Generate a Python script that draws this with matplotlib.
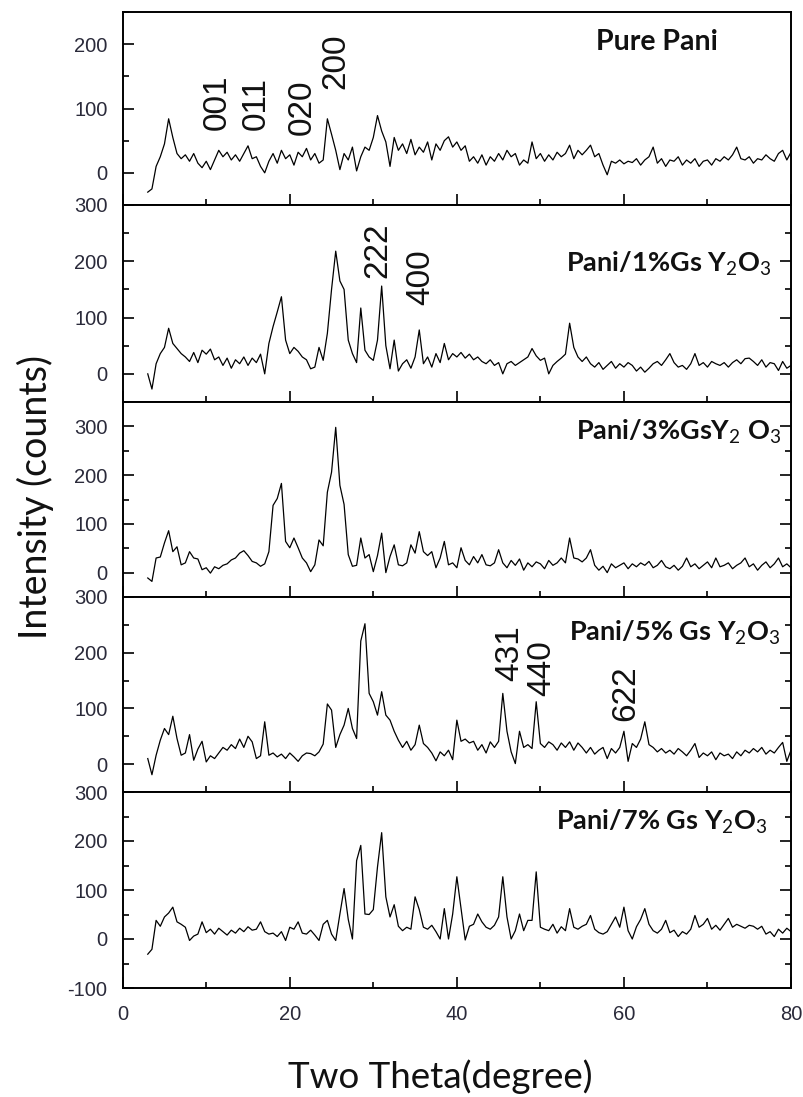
import numpy as np
import matplotlib
matplotlib.use("Agg")
import matplotlib.pyplot as plt
from matplotlib.ticker import MultipleLocator

plt.rcParams['axes.unicode_minus'] = False
plt.rcParams['mathtext.fontset'] = 'custom'
plt.rcParams['mathtext.rm'] = 'Lato'
plt.rcParams['mathtext.it'] = 'Lato:italic'
plt.rcParams['mathtext.bf'] = 'Lato:bold'

# scan grid (degrees 2-theta)
two_theta = np.arange(3.0, 80.01, 0.5)

pure_pani = [
    -30, -25, 10, 25, 45, 84, 55, 30, 22, 28, 18, 30, 15, 8, 18, 5, 20, 35, 25, 32,
    20, 28, 18, 30, 42, 22, 25, 10, 0, 18, 30, 15, 35, 22, 28, 12, 32, 25, 38, 20,
    30, 15, 20, 84, 60, 35, 5, 30, 20, 40, 3, 25, 40, 35, 55, 89, 65, 48, 10, 55,
    35, 45, 30, 52, 28, 40, 32, 48, 20, 45, 35, 50, 56, 40, 48, 35, 42, 18, 25, 15,
    28, 12, 25, 18, 30, 20, 35, 25, 30, 12, 20, 15, 48, 22, 30, 18, 28, 20, 32, 25,
    30, 43, 22, 35, 28, 35, 43, 25, 30, 12, -3, 18, 15, 20, 14, 18, 16, 22, 12, 20,
    25, 40, 15, 22, 10, 20, 18, 25, 12, 20, 15, 22, 10, 18, 20, 12, 22, 18, 25, 20,
    28, 40, 22, 20, 25, 15, 22, 20, 28, 22, 18, 30, 35, 20, 32]

pani_1 = [
    0, -27, 18, 36, 47, 81, 54, 45, 36, 30, 22, 38, 20, 42, 35, 44, 25, 30, 15, 28,
    10, 25, 18, 30, 15, 28, 20, 35, 0, 54, 84, 110, 137, 60, 36, 47, 40, 30, 25, 9,
    12, 47, 24, 72, 150, 218, 165, 150, 60, 36, 20, 117, 42, 30, 24, 60, 156, 50, 9, 60,
    5, 18, 25, 10, 30, 78, 18, 30, 12, 36, 20, 54, 25, 36, 30, 38, 28, 35, 25, 30,
    22, 18, 25, 15, 20, 0, 18, 22, 15, 20, 25, 30, 45, 32, 24, 28, 0, 15, 22, 28,
    35, 90, 47, 30, 22, 30, 18, 12, 20, 8, 15, 22, 10, 18, 12, 20, 15, 5, 12, 3,
    10, 18, 22, 15, 25, 36, 20, 12, 15, 8, 18, 36, 15, 20, 12, 22, 18, 15, 20, 12,
    20, 25, 18, 27, 28, 22, 15, 25, 12, 20, 18, 6, 22, 10, 15]

pani_3 = [
    -11, -18, 30, 32, 61, 86, 43, 53, 16, 20, 43, 30, 28, 6, 10, -1, 12, 8, 15, 18,
    26, 30, 40, 45, 35, 23, 20, 13, 18, 43, 138, 152, 183, 64, 51, 71, 51, 30, 20, 2,
    16, 67, 55, 165, 206, 298, 179, 140, 37, 13, 15, 71, 30, 37, 2, 35, 81, 0, 33, 57,
    16, 14, 20, 57, 40, 84, 43, 35, 43, 10, 30, 64, 16, 20, 10, 51, 25, 16, 33, 20,
    37, 16, 14, 20, 47, 20, 10, 25, 15, 28, 5, 20, 12, 22, 18, 8, 25, 15, 20, 30,
    20, 71, 30, 28, 22, 30, 47, 15, 5, 13, 0, 18, 10, 15, 20, 8, 18, 12, 20, 15,
    23, 10, 15, 25, 12, 8, 15, 5, 13, 30, 12, 18, 8, 15, 22, 10, 30, 12, 15, 20,
    8, 15, 20, 30, 12, 18, 5, 15, 22, 10, 18, 30, 12, 18, 10]

pani_5 = [
    10, -19, 16, 43, 64, 53, 86, 46, 16, 20, 53, 7, 27, 41, 4, 15, 10, 20, 30, 25,
    35, 28, 45, 30, 50, 40, 10, 15, 76, 16, 20, 13, 18, 10, 20, 13, 5, 15, 20, 19,
    15, 22, 36, 108, 97, 30, 53, 70, 100, 64, 46, 221, 252, 127, 112, 88, 130, 88, 79, 59,
    43, 30, 41, 25, 35, 70, 37, 30, 20, 6, 22, 15, 25, 8, 79, 41, 45, 38, 41, 25,
    35, 20, 40, 30, 41, 127, 59, 22, 1, 59, 30, 35, 28, 112, 37, 30, 40, 35, 25, 38,
    30, 40, 25, 38, 30, 20, 30, 18, 25, 30, 10, 28, 20, 30, 59, 5, 37, 30, 45, 76,
    35, 30, 22, 28, 20, 25, 18, 28, 22, 15, 25, 37, 12, 20, 15, 22, 8, 20, 15, 18,
    10, 22, 15, 25, 20, 28, 22, 30, 18, 25, 20, 30, 39, 5, 25]

pani_7 = [
    -31, -21, 38, 26, 45, 53, 65, 35, 30, 24, -3, 6, 10, 35, 13, 20, 10, 22, 15, 8,
    18, 12, 22, 15, 25, 18, 20, 35, 15, 10, 12, 5, 15, -3, 24, 20, 35, 12, 10, 18,
    8, -3, 30, 38, 10, -3, 51, 103, 40, 0, 160, 191, 51, 50, 60, 147, 217, 86, 45, 70,
    26, 17, 24, 20, 86, 60, 24, 20, 28, 15, 0, 62, 0, 51, 127, 62, -2, 26, 30, 51,
    35, 24, 20, 28, 45, 127, 45, 0, 17, 51, 17, 38, 38, 137, 24, 20, 17, 30, 12, 25,
    17, 62, 24, 20, 26, 30, 48, 20, 13, 10, 15, 30, 45, 24, 65, 17, 0, 25, 40, 62,
    30, 17, 12, 20, 38, 13, 18, 5, 15, 10, 20, 48, 24, 30, 42, 20, 28, 18, 30, 42,
    24, 30, 26, 22, 28, 26, 20, 26, 10, 15, 5, 20, 12, 22, 15]

series = [pure_pani, pani_1, pani_3, pani_5, pani_7]
sample_names = ["Pure Pani",
                "Pani/1%Gs Y$_2$O$_3$",
                "Pani/3%GsY$_2$ O$_3$",
                "Pani/5% Gs Y$_2$O$_3$",
                "Pani/7% Gs Y$_2$O$_3$"]
y_limits = [(-50, 250), (-50, 300), (-50, 350), (-50, 300), (-100, 300)]
name_pos = [(63.9, 204, 'center'), (77.6, 195, 'right'), (78.8, 288, 'right'),
            (78.8, 235, 'right'), (77.2, 240, 'right')]
peak_labels = [
    [("001", 11.3, 109), ("011", 16.0, 107), ("020", 21.5, 102), ("200", 25.5, 173)],
    [("222", 30.5, 220), ("400", 35.7, 172)],
    [],
    [("431", 46.3, 200), ("440", 50.2, 173), ("622", 60.2, 127)],
    [],
]

W, H = 804, 1097
fig = plt.figure(figsize=(W / 100, H / 100), dpi=100)
edges = [12, 205, 402, 597, 792, 988]
left, right = 122.7 / W, 791 / W
tick_color = '#2a2a3a'

for i, y in enumerate(series):
    top = 1 - edges[i] / H
    bottom = 1 - edges[i + 1] / H
    ax = fig.add_axes([left, bottom, right - left, top - bottom])
    ax.plot(two_theta, y, color='black', lw=0.9)
    ax.set_xlim(0, 80)
    ax.set_ylim(*y_limits[i])
    ax.xaxis.set_major_locator(MultipleLocator(20))
    ax.xaxis.set_minor_locator(MultipleLocator(10))
    ax.yaxis.set_major_locator(MultipleLocator(100))
    ax.yaxis.set_minor_locator(MultipleLocator(50))
    ax.tick_params(which='both', direction='in', top=False, right=(i > 0),
                   width=1.2, colors='black', labelcolor=tick_color)
    ax.tick_params(which='major', length=8)
    ax.tick_params(which='minor', length=4)
    ax.tick_params(axis='y', pad=11, labelsize=14.5)
    ax.tick_params(axis='x', pad=12, labelsize=14.5)
    for lab in ax.get_xticklabels() + ax.get_yticklabels():
        lab.set_family('Liberation Sans')
    if i < 4:
        ax.tick_params(axis='x', labelbottom=False)
    for sp in ax.spines.values():
        sp.set_linewidth(1.4)
    nx, ny, ha = name_pos[i]
    ax.text(nx, ny, sample_names[i], ha=ha, va='center',
            fontsize=(20.5 if i == 0 else 19.5),
            fontweight='bold', family='Lato', color='#111111')
    for txt, px, py in peak_labels[i]:
        ax.text(px, py, txt, rotation=90, ha='center', va='center',
                fontsize=24, family='Liberation Sans', color='#111111')

fig.text(35 / W, 1 - 497 / H, "Intensity (counts)", rotation=90, ha='center',
         va='center', fontsize=27, family='Lato', color='#111111')
fig.text(440 / W, 1 - 1077 / H, "Two Theta(degree)", ha='center', va='center',
         fontsize=26.5, family='Lato', color='#111111')

fig.savefig("out.png", dpi=100)
